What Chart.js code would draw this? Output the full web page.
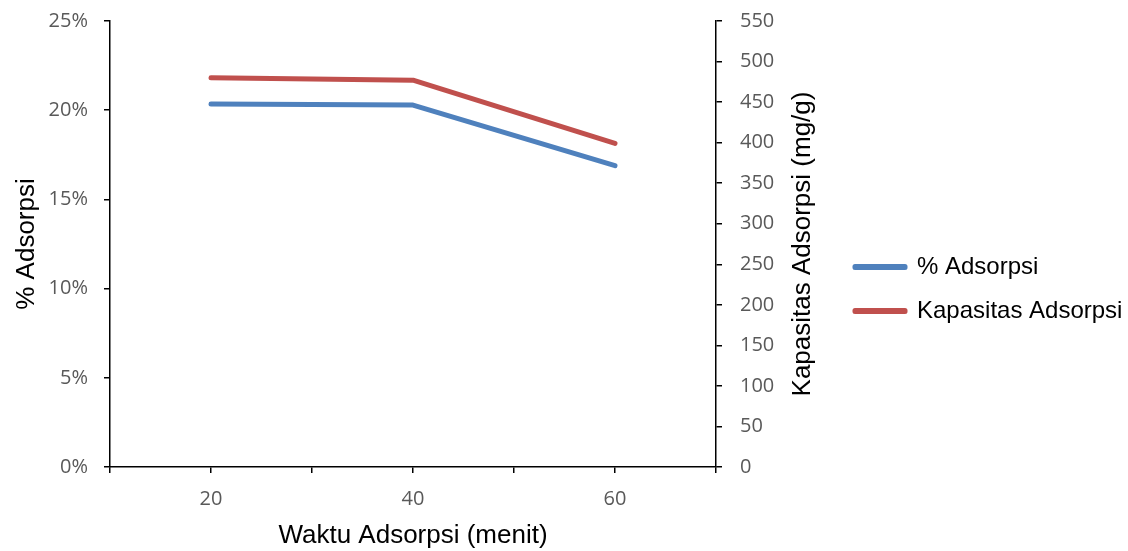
<!DOCTYPE html>
<html>
<head>
<meta charset="utf-8">
<title>Waktu Adsorpsi</title>
<script src="https://cdn.jsdelivr.net/npm/chart.js@4.4.1/dist/chart.umd.min.js"></script>
<style>
  html, body { margin: 0; padding: 0; background: #fff; }
  #wrap { width: 1128px; height: 551px; }
</style>
</head>
<body>
<div id="wrap"><canvas id="chart"></canvas></div>
<script>
// data
const waktu = [20, 40, 60];
const persenAdsorpsi = [20.35, 20.29, 16.89];
const kapasitasAdsorpsi = [480, 477, 399];
const xTickLabels = [20, 40, 60];
const seriesNames = ['% Adsorpsi', 'Kapasitas Adsorpsi'];
const rightTitle = 'Kapasitas Adsorpsi (mg/g)';

const tickFont = { family: 'Open Sans', size: 20 };
const titleFont = { family: 'Liberation Sans', size: 26 };

// Chart.js rotates a right-side title the other way, so draw it here
const rightTitlePlugin = {
    id: 'rightTitle',
    afterDraw(chart) {
        const s = chart.scales.y1;
        const ctx = chart.ctx;
        ctx.save();
        ctx.translate(s.left + 87, (chart.chartArea.top + chart.chartArea.bottom) / 2);
        ctx.rotate(-Math.PI / 2);
        ctx.font = '26px "Liberation Sans"';
        ctx.fillStyle = '#000';
        ctx.textAlign = 'center';
        ctx.textBaseline = 'middle';
        ctx.fillText(rightTitle, 0, 0);
        ctx.restore();
    }
};

const chart = document.getElementById('chart');
new Chart(chart, {
    type: 'line',
    data: {
        datasets: [{
            label: seriesNames[0],
            data: waktu.map((w, i) => ({ x: w, y: persenAdsorpsi[i] })),
            borderColor: '#4F81BD',
            backgroundColor: '#4F81BD',
            borderWidth: 5,
            borderCapStyle: 'round',
            borderJoinStyle: 'round',
            pointRadius: 0,
            yAxisID: 'y'
        }, {
            label: seriesNames[1],
            data: waktu.map((w, i) => ({ x: w, y: kapasitasAdsorpsi[i] })),
            borderColor: '#C0504D',
            backgroundColor: '#C0504D',
            borderWidth: 5,
            borderCapStyle: 'round',
            borderJoinStyle: 'round',
            pointRadius: 0,
            yAxisID: 'y1'
        }]
    },
    options: {
        responsive: true,
        maintainAspectRatio: false,
        animation: false,
        layout: { padding: { top: 21, right: 0, bottom: 0, left: 0 } },
        plugins: {
            tooltip: { enabled: false },
            legend: {
                position: 'right',
                maxWidth: 293,
                title: { display: true, text: '', font: { size: 5 }, padding: 0 },
                labels: {
                    boxWidth: 50,
                    boxHeight: 1,
                    padding: 20,
                    color: '#000',
                    font: { family: 'Liberation Sans', size: 24 }
                }
            }
        },
        scales: {
            x: {
                type: 'linear',
                min: 10,
                max: 70,
                grid: { drawOnChartArea: false, drawTicks: true, tickLength: 6, color: '#000', lineWidth: 1.5 },
                border: { color: '#000', width: 1.5 },
                ticks: {
                    stepSize: 10,
                    autoSkip: false,
                    maxRotation: 0,
                    padding: 14,
                    color: '#595959',
                    font: tickFont,
                    callback: v => xTickLabels.includes(v) ? String(v) : ''
                },
                title: {
                    display: true,
                    text: 'Waktu Adsorpsi (menit)',
                    color: '#000',
                    font: titleFont,
                    padding: { top: 0, bottom: 0 }
                },
                afterFit: s => { s.height = 84; }
            },
            y: {
                position: 'left',
                min: 0,
                max: 25,
                grid: { drawOnChartArea: false, drawTicks: true, tickLength: 6, color: '#000', lineWidth: 1.5 },
                border: { color: '#000', width: 1.5 },
                ticks: {
                    stepSize: 5,
                    padding: 16,
                    color: '#595959',
                    font: tickFont,
                    callback: v => v + '%'
                },
                title: {
                    display: true,
                    text: '% Adsorpsi',
                    color: '#000',
                    font: titleFont,
                    padding: { top: 11, bottom: 0 }
                },
                afterFit: s => { s.width = 110; s.paddingTop = 0; s.paddingBottom = 0; }
            },
            y1: {
                position: 'right',
                min: 0,
                max: 550,
                grid: { drawOnChartArea: false, drawTicks: true, tickLength: 6, color: '#000', lineWidth: 1.5 },
                border: { color: '#000', width: 1.5 },
                ticks: {
                    stepSize: 50,
                    padding: 18,
                    color: '#595959',
                    font: tickFont
                },
                afterFit: s => { s.width = 119; s.paddingTop = 0; s.paddingBottom = 0; }
            }
        }
    },
    plugins: [rightTitlePlugin]
});
</script>
</body>
</html>
